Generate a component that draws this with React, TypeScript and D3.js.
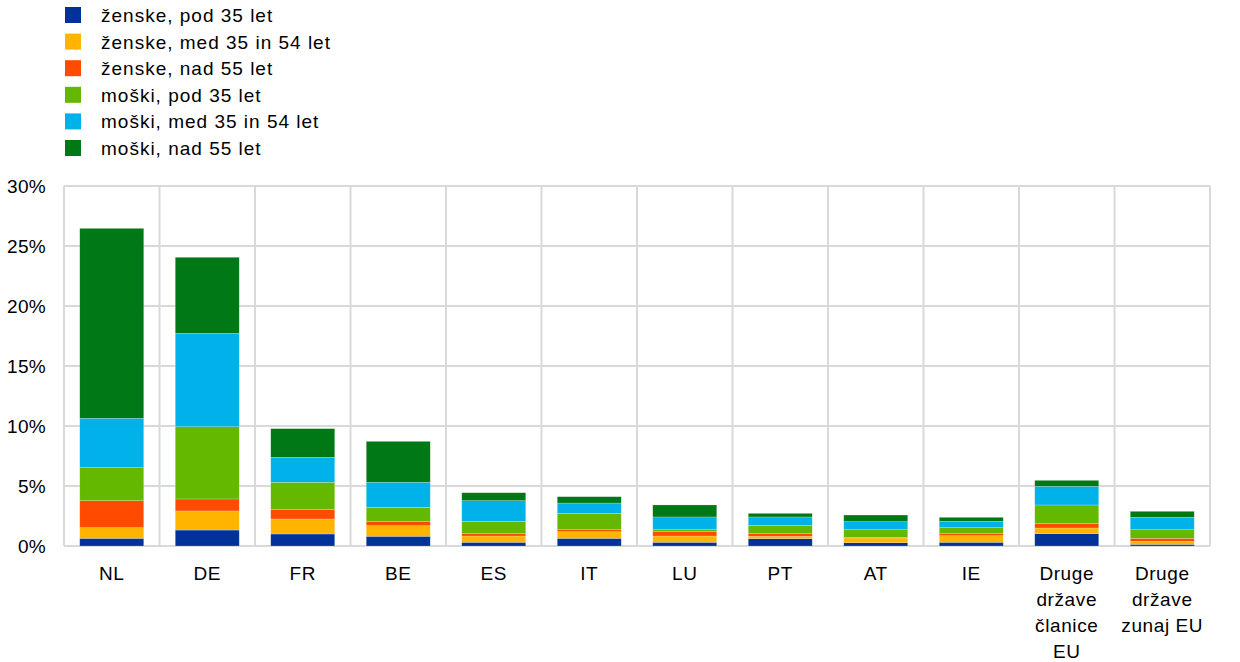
import React from "react";
import * as d3 from "d3";

const categories: string[][] = [
  ["NL"], ["DE"], ["FR"], ["BE"], ["ES"], ["IT"], ["LU"], ["PT"], ["AT"], ["IE"],
  ["Druge", "države", "članice", "EU"],
  ["Druge", "države", "zunaj EU"],
];

const seriesNames = [
  "ženske, pod 35 let",
  "ženske, med 35 in 54 let",
  "ženske, nad 55 let",
  "moški, pod 35 let",
  "moški, med 35 in 54 let",
  "moški, nad 55 let",
];

const colors = ["#003299", "#FFB400", "#FF4B00", "#65B800", "#00B1EA", "#007816"];

const femaleUnder35 = [0.64, 1.33, 1.0, 0.81, 0.31, 0.64, 0.31, 0.61, 0.28, 0.31, 1.03, 0.14];
const female35to54 = [0.89, 1.59, 1.25, 0.88, 0.52, 0.55, 0.52, 0.2, 0.39, 0.55, 0.47, 0.25];
const femaleOver55 = [2.25, 1.0, 0.81, 0.37, 0.2, 0.17, 0.36, 0.22, 0.05, 0.17, 0.39, 0.25];
const maleUnder35 = [2.75, 6.02, 2.25, 1.16, 1.03, 1.36, 0.17, 0.69, 0.64, 0.5, 1.53, 0.72];
const male35to54 = [4.11, 7.78, 2.08, 2.09, 1.72, 0.86, 1.06, 0.7, 0.67, 0.53, 1.55, 1.03];
const maleOver55 = [15.83, 6.34, 2.39, 3.41, 0.66, 0.53, 1.0, 0.3, 0.55, 0.33, 0.5, 0.5];

const seriesValues = [femaleUnder35, female35to54, femaleOver55, maleUnder35, male35to54, maleOver55];

const yTicks = [0, 5, 10, 15, 20, 25, 30];

export default function App() {
  const W = 1240, H = 662;
  const left = 64, right = 1210, top = 186, bottom = 546;
  const font = "'Liberation Sans', Arial, sans-serif";

  const x = d3.scaleBand<number>()
    .domain(categories.map((_, i) => i))
    .range([left, right])
    .paddingInner(0)
    .paddingOuter(0);
  const y = d3.scaleLinear().domain([0, 30]).range([bottom, top]);

  const table = categories.map((_, i) => {
    const row: Record<string, number> = {};
    seriesNames.forEach((s, k) => (row[s] = seriesValues[k][i]));
    return row;
  });
  const stacked = d3.stack<Record<string, number>>().keys(seriesNames)(table);

  const bw = x.bandwidth() * 0.67;

  return (
    <svg width={W} height={H} style={{ position: "absolute", left: 0, top: 0, background: "#fff" }}>
      {/* legend */}
      {seriesNames.map((s, k) => (
        <g key={s} transform={`translate(65, ${7 + k * 26.6})`}>
          <rect width={16} height={16} fill={colors[k]} />
          <text x={36} y={15} fontFamily={font} fontSize={19} letterSpacing={1.0} fill="#000">{s}</text>
        </g>
      ))}

      {/* gridlines */}
      {yTicks.map((t) => (
        <line key={t} x1={left} x2={right} y1={y(t)} y2={y(t)} stroke="#d9d9d9" strokeWidth={2} />
      ))}
      {d3.range(categories.length + 1).map((i) => {
        const xx = i < categories.length ? x(i)! : right;
        return <line key={i} x1={xx} x2={xx} y1={top} y2={bottom} stroke="#d9d9d9" strokeWidth={2} />;
      })}

      {/* bars */}
      {stacked.map((layer, k) => (
        <g key={k} fill={colors[k]}>
          {layer.map((d, i) => (
            <rect
              key={i}
              x={x(i)! + (x.bandwidth() - bw) / 2}
              y={y(d[1])}
              width={bw}
              height={Math.max(0, y(d[0]) - y(d[1]))}
              stroke="#ffffff"
              strokeOpacity={0.35}
              strokeWidth={0.6}
            />
          ))}
        </g>
      ))}

      {/* y labels */}
      {yTicks.map((t) => (
        <text key={t} x={46} y={y(t) + 7} textAnchor="end" fontFamily={font} fontSize={19} letterSpacing={0.3} fill="#000">{t}%</text>
      ))}

      {/* x labels */}
      {categories.map((lines, i) => (
        <text key={i} textAnchor="middle" fontFamily={font} fontSize={19} letterSpacing={0.6} fill="#000">
          {lines.map((l, j) => (
            <tspan key={j} x={x(i)! + x.bandwidth() / 2} y={580 + j * 26}>{l}</tspan>
          ))}
        </text>
      ))}
    </svg>
  );
}
